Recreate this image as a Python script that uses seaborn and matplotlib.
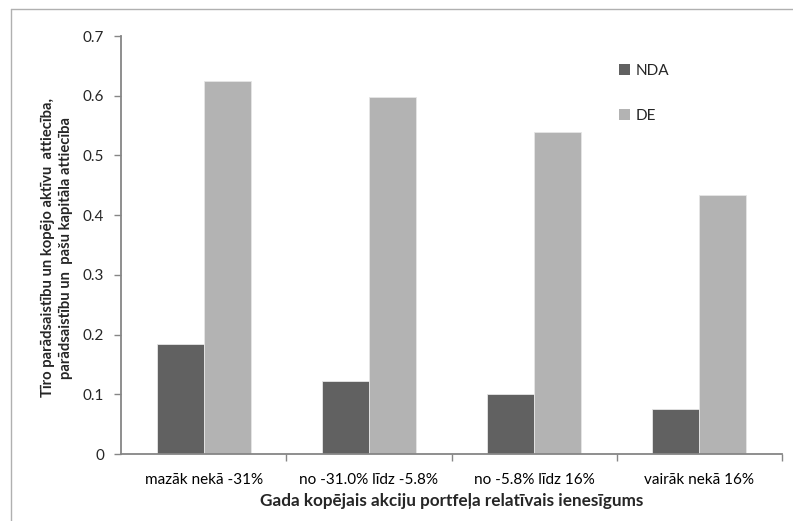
import pandas as pd
import matplotlib
matplotlib.use("Agg")
import matplotlib.pyplot as plt
import seaborn as sns

# --- Data ---
categories = ["mazāk nekā -31%", "no -31.0% līdz -5.8%", "no -5.8% līdz 16%", "vairāk nekā 16%"]
nda = [0.185, 0.122, 0.100, 0.075]
de = [0.625, 0.598, 0.540, 0.433]
series = ["NDA", "DE"]

df = pd.DataFrame({
    "cat": categories * 2,
    "series": ["NDA"] * 4 + ["DE"] * 4,
    "value": nda + de,
})

sns.set_style("white")
plt.rcParams["font.family"] = ["Lato", "DejaVu Sans"]

colors = {"NDA": "#616161", "DE": "#b3b3b3"}
axis_gray = "#868686"

fig = plt.figure(figsize=(7.93, 5.21), dpi=100)
ax = fig.add_axes([121 / 793, 1 - 454 / 521, (782 - 121) / 793, (454 - 36) / 521])

sns.barplot(data=df, x="cat", y="value", hue="series", hue_order=series,
            order=categories, palette=colors, width=0.57, saturation=1,
            edgecolor="#e6e6e6", linewidth=0.6, ax=ax, legend=True)

ax.set_ylim(0, 0.7)
ax.set_xlim(-0.5, 3.5)
ax.set_yticks([0, 0.1, 0.2, 0.3, 0.4, 0.5, 0.6, 0.7])
ax.set_yticklabels(["0", "0.1", "0.2", "0.3", "0.4", "0.5", "0.6", "0.7"])

# category boundaries as tick marks, labels without marks
ax.set_xticks([0.5, 1.5, 2.5, 3.5], minor=True)
ax.tick_params(axis="x", which="major", length=0, pad=14, labelsize=11, colors="black")
ax.tick_params(axis="x", which="minor", length=5, width=1, color=axis_gray, direction="out")
ax.tick_params(axis="y", which="major", length=5, width=1, color=axis_gray, direction="out",
               labelsize=11, pad=7)
ax.tick_params(bottom=True, left=True, which="both")

for side in ["top", "right"]:
    ax.spines[side].set_visible(False)
for side in ["left", "bottom"]:
    ax.spines[side].set_color(axis_gray)
    ax.spines[side].set_linewidth(1.3)

ax.set_xlabel("Gada kopējais akciju portfeļa relatīvais ienesīgums",
              fontsize=12.3, fontweight="bold", labelpad=4)
ax.set_ylabel("Tīro parādsaistību un kopējo aktīvu  attiecība,\nparādsaistību un  pašu kapitāla attiecība",
              fontsize=10.6, fontweight="bold", linespacing=1.35)
ax.yaxis.set_label_coords(-0.072, 0.493)

leg = ax.legend(loc="upper left", bbox_to_anchor=(605 / 793, 1 - 50 / 521),
                bbox_transform=fig.transFigure, frameon=False, title=None,
                handlelength=0.75, handleheight=0.75, handletextpad=0.35,
                labelspacing=2.05, fontsize=11)
for h in leg.legend_handles:
    h.set_edgecolor("none")

# outer chart frame
fig.add_artist(plt.Line2D([11 / 793, 11 / 793], [0, 1 - 9 / 521], transform=fig.transFigure,
                          color="#b0b0b0", linewidth=1))
fig.add_artist(plt.Line2D([11 / 793, 1], [1 - 9 / 521, 1 - 9 / 521], transform=fig.transFigure,
                          color="#b0b0b0", linewidth=1))

fig.savefig("out.png", dpi=100)
